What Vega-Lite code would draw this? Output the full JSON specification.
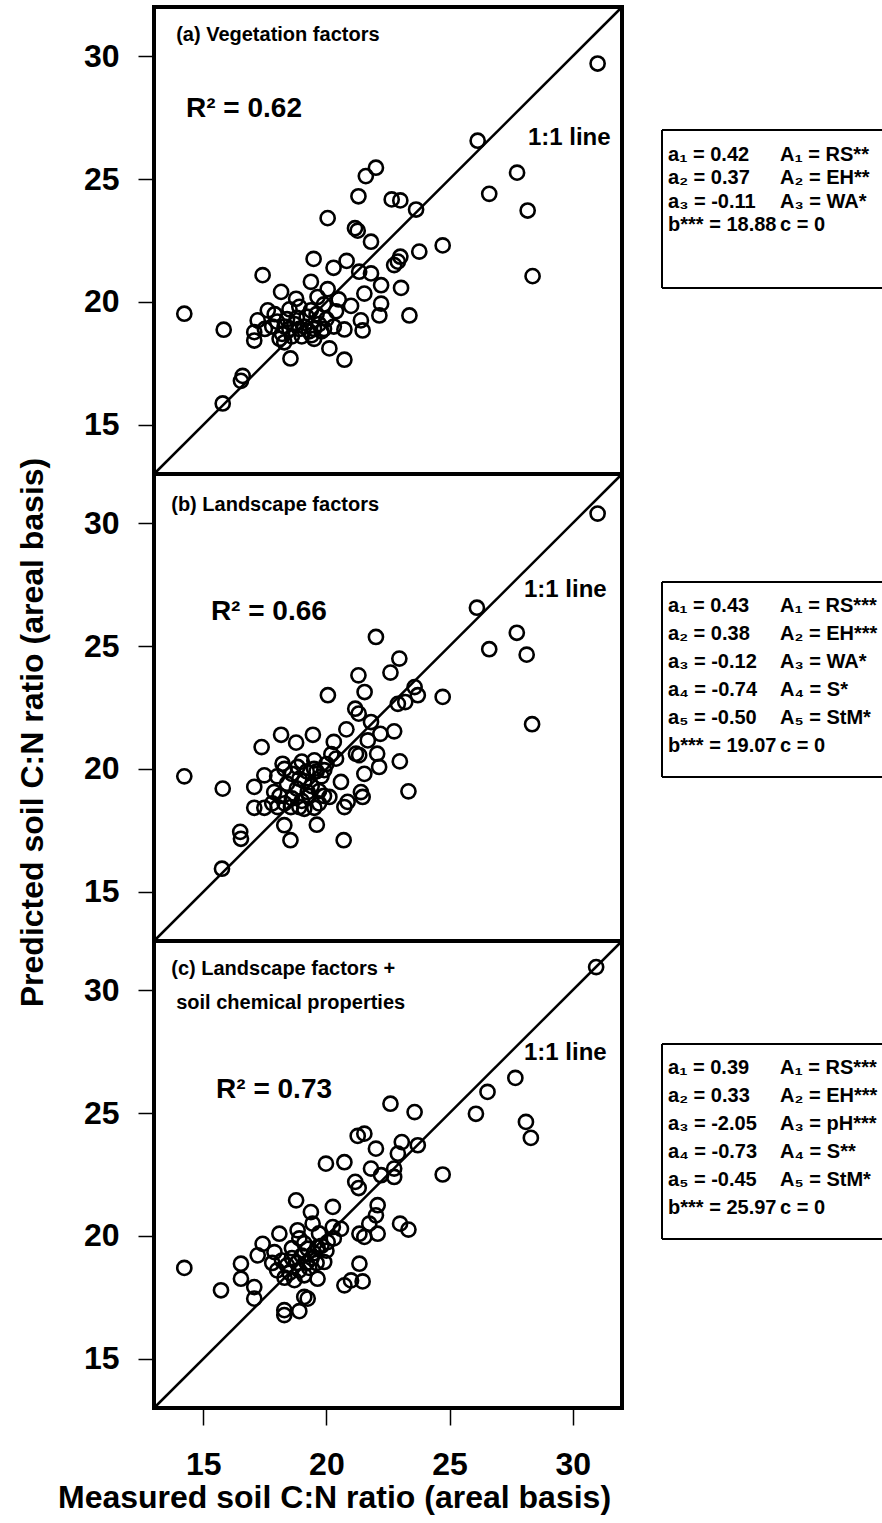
{
  "$schema": "https://vega.github.io/schema/vega-lite/v6.json",
  "padding": {"left": 14, "top": 3, "right": 0, "bottom": 5},
  "background": "white",
  "datasets": {
    "a": [
      {"x":31.01,"y":29.70},{"x":26.14,"y":26.56},{"x":22.01,"y":25.46},{"x":21.6,"y":25.12},{"x":27.74,"y":25.26},{"x":21.3,"y":24.30},{"x":22.65,"y":24.17},{"x":23.0,"y":24.13},{"x":23.64,"y":23.76},{"x":26.61,"y":24.40},{"x":28.17,"y":23.72},{"x":20.05,"y":23.41},{"x":21.16,"y":23.0},{"x":21.27,"y":22.9},{"x":21.81,"y":22.45},{"x":24.72,"y":22.3},{"x":23.77,"y":22.05},{"x":23.0,"y":21.84},{"x":22.9,"y":21.64},{"x":22.75,"y":21.5},{"x":19.48,"y":21.75},{"x":20.82,"y":21.67},{"x":20.29,"y":21.39},{"x":28.37,"y":21.05},{"x":17.41,"y":21.09},{"x":21.33,"y":21.23},{"x":21.81,"y":21.16},{"x":19.37,"y":20.82},{"x":22.22,"y":20.68},{"x":23.03,"y":20.57},{"x":20.05,"y":20.52},{"x":18.16,"y":20.41},{"x":21.54,"y":20.34},{"x":19.64,"y":20.2},{"x":18.77,"y":20.13},{"x":22.22,"y":19.93},{"x":21.0,"y":19.84},{"x":14.23,"y":19.52},{"x":19.37,"y":19.66},{"x":20.39,"y":19.62},{"x":17.62,"y":19.66},{"x":22.15,"y":19.45},{"x":23.37,"y":19.45},{"x":21.4,"y":19.25},{"x":17.21,"y":19.25},{"x":20.73,"y":18.88},{"x":21.47,"y":18.84},{"x":15.83,"y":18.87},{"x":17.07,"y":18.77},{"x":17.07,"y":18.43},{"x":18.29,"y":18.36},{"x":20.12,"y":18.11},{"x":18.54,"y":17.7},{"x":20.73,"y":17.65},{"x":16.6,"y":16.99},{"x":16.53,"y":16.79},{"x":15.79,"y":15.87},
      {"x":18.0,"y":19.2},{"x":18.3,"y":19.0},{"x":18.5,"y":18.9},{"x":18.7,"y":19.1},{"x":18.9,"y":18.9},{"x":19.1,"y":19.0},{"x":19.3,"y":18.8},{"x":19.5,"y":18.9},{"x":19.7,"y":19.1},{"x":19.9,"y":18.9},{"x":18.2,"y":18.7},{"x":18.6,"y":18.6},{"x":19.0,"y":18.6},{"x":19.4,"y":18.65},{"x":19.8,"y":18.8},{"x":18.4,"y":19.3},{"x":18.8,"y":19.35},{"x":19.2,"y":19.4},{"x":19.6,"y":19.5},{"x":20.0,"y":19.3},{"x":17.8,"y":19.0},{"x":18.1,"y":18.5},{"x":19.5,"y":18.5},{"x":20.3,"y":19.0},{"x":17.5,"y":18.9},{"x":18.9,"y":19.8},{"x":19.9,"y":19.9},{"x":20.5,"y":20.1},{"x":18.5,"y":19.7},{"x":17.9,"y":19.5}
    ],
    "b": [
      {"x":31.01,"y":30.39},{"x":26.11,"y":26.56},{"x":22.01,"y":25.37},{"x":27.73,"y":25.54},{"x":26.61,"y":24.87},{"x":28.13,"y":24.65},{"x":22.96,"y":24.49},{"x":22.6,"y":23.92},{"x":21.3,"y":23.81},{"x":21.55,"y":23.13},{"x":20.06,"y":23.0},{"x":23.58,"y":23.33},{"x":23.71,"y":23.0},{"x":24.72,"y":22.93},{"x":22.9,"y":22.65},{"x":23.2,"y":22.72},{"x":21.17,"y":22.45},{"x":21.31,"y":22.25},{"x":21.81,"y":21.91},{"x":28.35,"y":21.82},{"x":22.75,"y":21.53},{"x":20.81,"y":21.61},{"x":19.45,"y":21.39},{"x":18.16,"y":21.39},{"x":18.77,"y":21.07},{"x":20.3,"y":21.1},{"x":22.19,"y":21.43},{"x":21.68,"y":21.16},{"x":17.37,"y":20.89},{"x":21.2,"y":20.62},{"x":21.33,"y":20.56},{"x":22.06,"y":20.62},{"x":22.98,"y":20.31},{"x":22.14,"y":20.08},{"x":20.39,"y":20.42},{"x":19.51,"y":20.35},{"x":18.22,"y":20.21},{"x":18.83,"y":20.08},{"x":19.91,"y":19.95},{"x":14.23,"y":19.7},{"x":17.48,"y":19.74},{"x":21.54,"y":19.8},{"x":20.59,"y":19.47},{"x":17.07,"y":19.27},{"x":15.79,"y":19.2},{"x":17.88,"y":19.06},{"x":19.24,"y":19.06},{"x":21.4,"y":19.06},{"x":21.47,"y":18.86},{"x":20.86,"y":18.66},{"x":20.12,"y":18.86},{"x":17.07,"y":18.42},{"x":17.48,"y":18.42},{"x":18.02,"y":18.45},{"x":18.56,"y":18.45},{"x":19.1,"y":18.38},{"x":19.51,"y":18.42},{"x":20.73,"y":18.45},{"x":18.29,"y":17.71},{"x":19.61,"y":17.73},{"x":23.33,"y":19.09},{"x":18.54,"y":17.1},{"x":20.7,"y":17.1},{"x":16.5,"y":17.44},{"x":16.53,"y":17.16},{"x":15.76,"y":15.94},
      {"x":18.3,"y":20.0},{"x":18.6,"y":19.8},{"x":18.9,"y":19.6},{"x":19.2,"y":19.9},{"x":19.5,"y":20.0},{"x":19.8,"y":19.7},{"x":18.4,"y":19.4},{"x":18.8,"y":19.2},{"x":19.1,"y":19.5},{"x":19.4,"y":19.3},{"x":19.7,"y":19.1},{"x":18.1,"y":18.9},{"x":18.6,"y":18.8},{"x":19.0,"y":18.7},{"x":19.3,"y":18.9},{"x":19.7,"y":18.6},{"x":18.3,"y":18.6},{"x":18.9,"y":18.45},{"x":19.6,"y":19.9},{"x":20.0,"y":20.2},{"x":18.0,"y":19.7},{"x":19.9,"y":18.9},{"x":20.2,"y":20.6},{"x":17.8,"y":18.6},{"x":19.0,"y":20.3}
    ],
    "c": [
      {"x":30.95,"y":30.94},{"x":27.67,"y":26.43},{"x":26.54,"y":25.86},{"x":26.07,"y":24.97},{"x":28.1,"y":24.64},{"x":28.3,"y":23.99},{"x":22.6,"y":25.38},{"x":23.58,"y":25.04},{"x":21.27,"y":24.07},{"x":21.54,"y":24.16},{"x":22.01,"y":23.55},{"x":23.06,"y":23.82},{"x":23.71,"y":23.69},{"x":22.9,"y":23.35},{"x":19.98,"y":22.94},{"x":20.73,"y":23.0},{"x":21.81,"y":22.74},{"x":22.22,"y":22.47},{"x":22.75,"y":22.74},{"x":22.75,"y":22.4},{"x":24.72,"y":22.5},{"x":21.17,"y":22.2},{"x":21.31,"y":21.95},{"x":18.77,"y":21.45},{"x":20.26,"y":21.18},{"x":22.08,"y":21.25},{"x":22.01,"y":20.84},{"x":19.37,"y":20.97},{"x":19.44,"y":20.5},{"x":21.74,"y":20.5},{"x":22.99,"y":20.5},{"x":23.33,"y":20.26},{"x":20.26,"y":20.36},{"x":20.59,"y":20.29},{"x":18.83,"y":20.23},{"x":21.34,"y":20.09},{"x":21.54,"y":19.96},{"x":22.08,"y":20.09},{"x":18.09,"y":20.09},{"x":17.41,"y":19.68},{"x":20.05,"y":19.75},{"x":19.64,"y":19.54},{"x":19.24,"y":19.48},{"x":17.21,"y":19.21},{"x":17.89,"y":19.34},{"x":16.53,"y":18.87},{"x":14.23,"y":18.7},{"x":21.34,"y":18.87},{"x":19.91,"y":18.94},{"x":16.53,"y":18.26},{"x":19.64,"y":18.26},{"x":20.73,"y":17.99},{"x":21.0,"y":18.19},{"x":21.47,"y":18.15},{"x":15.72,"y":17.79},{"x":17.07,"y":17.92},{"x":17.07,"y":17.45},{"x":19.1,"y":17.52},{"x":19.24,"y":17.45},{"x":18.29,"y":16.98},{"x":18.29,"y":16.78},{"x":18.9,"y":16.94},
      {"x":18.2,"y":19.0},{"x":18.4,"y":18.8},{"x":18.6,"y":19.1},{"x":18.8,"y":18.9},{"x":19.0,"y":19.2},{"x":19.2,"y":18.9},{"x":19.4,"y":19.1},{"x":18.5,"y":18.5},{"x":18.9,"y":18.6},{"x":19.3,"y":18.7},{"x":18.3,"y":18.3},{"x":18.7,"y":18.2},{"x":19.1,"y":18.4},{"x":19.6,"y":18.9},{"x":18.0,"y":18.6},{"x":19.5,"y":19.3},{"x":19.8,"y":19.6},{"x":18.6,"y":19.5},{"x":19.1,"y":19.7},{"x":20.0,"y":19.4},{"x":17.8,"y":18.9},{"x":20.3,"y":19.9},{"x":19.7,"y":20.1},{"x":18.9,"y":19.9}
    ],
    "boxa": [
      {"line":1,"col":1,"text":"a₁ = 0.42"},{"line":1,"col":2,"text":"A₁ = RS**"},
      {"line":2,"col":1,"text":"a₂ = 0.37"},{"line":2,"col":2,"text":"A₂ = EH**"},
      {"line":3,"col":1,"text":"a₃ = -0.11"},{"line":3,"col":2,"text":"A₃ = WA*"},
      {"line":4,"col":1,"text":"b*** = 18.88"},{"line":4,"col":2,"text":"c = 0"}
    ],
    "boxb": [
      {"line":1,"col":1,"text":"a₁ = 0.43"},{"line":1,"col":2,"text":"A₁ = RS***"},
      {"line":2,"col":1,"text":"a₂ = 0.38"},{"line":2,"col":2,"text":"A₂ = EH***"},
      {"line":3,"col":1,"text":"a₃ = -0.12"},{"line":3,"col":2,"text":"A₃ = WA*"},
      {"line":4,"col":1,"text":"a₄ = -0.74"},{"line":4,"col":2,"text":"A₄ = S*"},
      {"line":5,"col":1,"text":"a₅ = -0.50"},{"line":5,"col":2,"text":"A₅ = StM*"},
      {"line":6,"col":1,"text":"b*** = 19.07"},{"line":6,"col":2,"text":"c = 0"}
    ],
    "boxc": [
      {"line":1,"col":1,"text":"a₁ = 0.39"},{"line":1,"col":2,"text":"A₁ = RS***"},
      {"line":2,"col":1,"text":"a₂ = 0.33"},{"line":2,"col":2,"text":"A₂ = EH***"},
      {"line":3,"col":1,"text":"a₃ = -2.05"},{"line":3,"col":2,"text":"A₃ = pH***"},
      {"line":4,"col":1,"text":"a₄ = -0.73"},{"line":4,"col":2,"text":"A₄ = S**"},
      {"line":5,"col":1,"text":"a₅ = -0.45"},{"line":5,"col":2,"text":"A₅ = StM*"},
      {"line":6,"col":1,"text":"b*** = 25.97"},{"line":6,"col":2,"text":"c = 0"}
    ]
  },
  "hconcat": [
    {
      "vconcat": [
        {
          "width": 468, "height": 467,
          "encoding": {
            "x": {"field": "x", "type": "quantitative", "scale": {"domain": [13, 32], "nice": false, "zero": false}, "axis": null},
            "y": {"field": "y", "type": "quantitative", "scale": {"domain": [13, 32], "nice": false, "zero": false},
                  "axis": {"values": [15, 20, 25, 30], "title": null, "tickSize": 16, "labelPadding": 19}}
          },
          "layer": [
            {"data": {"values": [{"x": 13, "y": 13, "x2": 32, "y2": 32}]}, "mark": {"type": "rule", "color": "black", "strokeWidth": 2.5},
             "encoding": {"x2": {"field": "x2"}, "y2": {"field": "y2"}}},
            {"data": {"name": "a"}, "mark": {"type": "point", "shape": "circle", "filled": false, "stroke": "black", "strokeWidth": 2.6, "size": 200, "opacity": 1}},
            {"data": {"values": [{"x": 13.9, "y": 30.86, "t": "(a) Vegetation factors"}]}, "mark": {"type": "text", "align": "left", "baseline": "middle", "fontSize": 20}, "encoding": {"text": {"field": "t"}}},
            {"data": {"values": [{"x": 14.3, "y": 27.83, "t": "R² = 0.62"}]}, "mark": {"type": "text", "align": "left", "baseline": "middle", "fontSize": 28}, "encoding": {"text": {"field": "t"}}},
            {"data": {"values": [{"x": 28.18, "y": 26.68, "t": "1:1 line"}]}, "mark": {"type": "text", "align": "left", "baseline": "middle", "fontSize": 24}, "encoding": {"text": {"field": "t"}}}
          ]
        },
        {
          "width": 468, "height": 467,
          "encoding": {
            "x": {"field": "x", "type": "quantitative", "scale": {"domain": [13, 32], "nice": false, "zero": false}, "axis": null},
            "y": {"field": "y", "type": "quantitative", "scale": {"domain": [13, 32], "nice": false, "zero": false},
                  "axis": {"values": [15, 20, 25, 30], "title": "Predicted soil C:N ratio (areal basis)", "tickSize": 16, "labelPadding": 19, "titlePadding": 34, "titleY": 258}}
          },
          "layer": [
            {"data": {"values": [{"x": 13, "y": 13, "x2": 32, "y2": 32}]}, "mark": {"type": "rule", "color": "black", "strokeWidth": 2.5},
             "encoding": {"x2": {"field": "x2"}, "y2": {"field": "y2"}}},
            {"data": {"name": "b"}, "mark": {"type": "point", "shape": "circle", "filled": false, "stroke": "black", "strokeWidth": 2.6, "size": 200, "opacity": 1}},
            {"data": {"values": [{"x": 13.7, "y": 30.74, "t": "(b) Landscape factors"}]}, "mark": {"type": "text", "align": "left", "baseline": "middle", "fontSize": 20}, "encoding": {"text": {"field": "t"}}},
            {"data": {"values": [{"x": 15.31, "y": 26.39, "t": "R² = 0.66"}]}, "mark": {"type": "text", "align": "left", "baseline": "middle", "fontSize": 28}, "encoding": {"text": {"field": "t"}}},
            {"data": {"values": [{"x": 28.02, "y": 27.28, "t": "1:1 line"}]}, "mark": {"type": "text", "align": "left", "baseline": "middle", "fontSize": 24}, "encoding": {"text": {"field": "t"}}}
          ]
        },
        {
          "width": 468, "height": 467,
          "encoding": {
            "x": {"field": "x", "type": "quantitative", "scale": {"domain": [13, 32], "nice": false, "zero": false},
                  "axis": {"values": [15, 20, 25, 30], "title": "Measured soil C:N ratio (areal basis)", "tickSize": 17, "labelPadding": 24, "titlePadding": 2, "titleX": 180}},
            "y": {"field": "y", "type": "quantitative", "scale": {"domain": [13, 32], "nice": false, "zero": false},
                  "axis": {"values": [15, 20, 25, 30], "title": null, "tickSize": 16, "labelPadding": 19}}
          },
          "layer": [
            {"data": {"values": [{"x": 13, "y": 13, "x2": 32, "y2": 32}]}, "mark": {"type": "rule", "color": "black", "strokeWidth": 2.5},
             "encoding": {"x2": {"field": "x2"}, "y2": {"field": "y2"}}},
            {"data": {"name": "c"}, "mark": {"type": "point", "shape": "circle", "filled": false, "stroke": "black", "strokeWidth": 2.6, "size": 200, "opacity": 1}},
            {"data": {"values": [{"x": 13.7, "y": 30.86, "t": "(c) Landscape factors +"}]}, "mark": {"type": "text", "align": "left", "baseline": "middle", "fontSize": 20}, "encoding": {"text": {"field": "t"}}},
            {"data": {"values": [{"x": 13.9, "y": 29.48, "t": "soil chemical properties"}]}, "mark": {"type": "text", "align": "left", "baseline": "middle", "fontSize": 20}, "encoding": {"text": {"field": "t"}}},
            {"data": {"values": [{"x": 15.52, "y": 25.94, "t": "R² = 0.73"}]}, "mark": {"type": "text", "align": "left", "baseline": "middle", "fontSize": 28}, "encoding": {"text": {"field": "t"}}},
            {"data": {"values": [{"x": 28.02, "y": 27.44, "t": "1:1 line"}]}, "mark": {"type": "text", "align": "left", "baseline": "middle", "fontSize": 24}, "encoding": {"text": {"field": "t"}}}
          ]
        }
      ],
      "spacing": 0,
      "bounds": "flush",
      "resolve": {"scale": {"x": "independent", "y": "independent"}}
    },
    {
      "vconcat": [
        {"data": {"values": []}, "mark": "point", "width": 222, "height": 122, "view": {"stroke": null}},
        {
          "width": 222, "height": 158,
          "view": {"stroke": null},
          "encoding": {
            "x": {"field": "col", "type": "quantitative", "scale": {"domain": [0.946, 2.928], "nice": false, "zero": false}, "axis": null},
            "y": {"field": "line", "type": "quantitative", "scale": {"domain": [-0.064, 6.66], "nice": false, "zero": false, "reverse": true}, "axis": null}
          },
          "layer": [
            {"data": {"values": [{"col": 0.946, "line": -0.064, "line2": 6.66}]}, "mark": {"type": "rule", "color": "black", "strokeWidth": 2}, "encoding": {"y2": {"field": "line2"}}},
            {"data": {"values": [{"col": 0.946, "col2": 2.928, "line": -0.064}, {"col": 0.946, "col2": 2.928, "line": 6.66}]}, "mark": {"type": "rule", "color": "black", "strokeWidth": 2}, "encoding": {"x2": {"field": "col2"}}},
            {"data": {"name": "boxa"}, "mark": {"type": "text", "align": "left", "baseline": "middle", "fontSize": 20}, "encoding": {"text": {"field": "text"}}}
          ]
        },
        {"data": {"values": []}, "mark": "point", "width": 222, "height": 292, "view": {"stroke": null}},
        {
          "width": 222, "height": 195,
          "view": {"stroke": null},
          "encoding": {
            "x": {"field": "col", "type": "quantitative", "scale": {"domain": [0.946, 2.928], "nice": false, "zero": false}, "axis": null},
            "y": {"field": "line", "type": "quantitative", "scale": {"domain": [0.143, 7.107], "nice": false, "zero": false, "reverse": true}, "axis": null}
          },
          "layer": [
            {"data": {"values": [{"col": 0.946, "line": 0.143, "line2": 7.107}]}, "mark": {"type": "rule", "color": "black", "strokeWidth": 2}, "encoding": {"y2": {"field": "line2"}}},
            {"data": {"values": [{"col": 0.946, "col2": 2.928, "line": 0.143}, {"col": 0.946, "col2": 2.928, "line": 7.107}]}, "mark": {"type": "rule", "color": "black", "strokeWidth": 2}, "encoding": {"x2": {"field": "col2"}}},
            {"data": {"name": "boxb"}, "mark": {"type": "text", "align": "left", "baseline": "middle", "fontSize": 20}, "encoding": {"text": {"field": "text"}}}
          ]
        },
        {"data": {"values": []}, "mark": "point", "width": 222, "height": 265, "view": {"stroke": null}},
        {
          "width": 222, "height": 195,
          "view": {"stroke": null},
          "encoding": {
            "x": {"field": "col", "type": "quantitative", "scale": {"domain": [0.946, 2.928], "nice": false, "zero": false}, "axis": null},
            "y": {"field": "line", "type": "quantitative", "scale": {"domain": [0.143, 7.107], "nice": false, "zero": false, "reverse": true}, "axis": null}
          },
          "layer": [
            {"data": {"values": [{"col": 0.946, "line": 0.143, "line2": 7.107}]}, "mark": {"type": "rule", "color": "black", "strokeWidth": 2}, "encoding": {"y2": {"field": "line2"}}},
            {"data": {"values": [{"col": 0.946, "col2": 2.928, "line": 0.143}, {"col": 0.946, "col2": 2.928, "line": 7.107}]}, "mark": {"type": "rule", "color": "black", "strokeWidth": 2}, "encoding": {"x2": {"field": "col2"}}},
            {"data": {"name": "boxc"}, "mark": {"type": "text", "align": "left", "baseline": "middle", "fontSize": 20}, "encoding": {"text": {"field": "text"}}}
          ]
        }
      ],
      "spacing": 0,
      "resolve": {"scale": {"x": "independent", "y": "independent"}}
    }
  ],
  "spacing": 35,
  "resolve": {"scale": {"x": "independent", "y": "independent"}},
  "config": {
    "font": "Liberation Sans",
    "view": {"stroke": "black", "strokeWidth": 4},
    "axis": {"labelFont": "Liberation Sans", "labelFontWeight": "bold", "labelFontSize": 32, "labelColor": "black",
             "titleFont": "Liberation Sans", "titleFontWeight": "bold", "titleFontSize": 32, "titleColor": "black",
             "tickColor": "black", "tickWidth": 1.5, "domain": false, "grid": false},
    "text": {"font": "Liberation Sans", "fontWeight": "bold", "color": "black"}
  }
}
